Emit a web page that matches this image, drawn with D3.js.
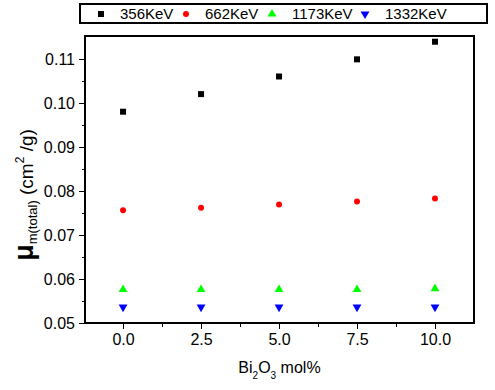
<!DOCTYPE html>
<html>
<head>
<meta charset="utf-8">
<script src="https://cdn.jsdelivr.net/npm/d3@7"></script>
<style>
  body { margin: 0; background: #fff; }
  svg { font-family: Arial, "Liberation Sans", sans-serif; }
</style>
</head>
<body>
<div id="chart"></div>
<script>
var mol = [0.0, 2.5, 5.0, 7.5, 10.0];
var e356 = [0.0980, 0.1020, 0.1060, 0.1099, 0.1139];
var e662 = [0.0756, 0.0762, 0.0769, 0.0776, 0.0783];
var e1173 = [0.0576, 0.0576, 0.0576, 0.0576, 0.0578];
var e1332 = [0.0536, 0.0536, 0.0536, 0.0536, 0.0536];
var seriesNames = ["356KeV", "662KeV", "1173KeV", "1332KeV"];
var xTicks = [0.0, 2.5, 5.0, 7.5, 10.0];
var yTicks = [0.05, 0.06, 0.07, 0.08, 0.09, 0.10, 0.11];

var W = 495, H = 390;
var plotL = 85, plotR = 474, plotT = 36, plotB = 323;

var svg = d3.select("#chart").append("svg")
    .attr("width", W)
    .attr("height", H);

var x = d3.scaleLinear().domain([-1.22, 11.25]).range([plotL, plotR]);
var y = d3.scaleLinear().domain([0.05, 0.1152]).range([plotB, plotT]);

// frame
svg.append("rect")
    .attr("x", plotL).attr("y", plotT)
    .attr("width", plotR - plotL).attr("height", plotB - plotT)
    .attr("fill", "none").attr("stroke", "#000").attr("stroke-width", 1.2)
    .attr("shape-rendering", "crispEdges");

// axes
svg.append("g")
    .attr("transform", "translate(0," + plotB + ")")
    .call(d3.axisBottom(x).tickValues(xTicks).tickSize(6).tickPadding(5)
        .tickFormat(d3.format(".1f")));
svg.append("g")
    .attr("transform", "translate(0," + plotB + ")")
    .call(d3.axisBottom(x).tickValues([1.25, 3.75, 6.25, 8.75]).tickSize(4).tickFormat(""));

svg.append("g")
    .attr("transform", "translate(" + plotL + ",0)")
    .call(d3.axisLeft(y).tickValues(yTicks).tickSize(6).tickPadding(4)
        .tickFormat(d3.format(".2f")));
svg.append("g")
    .attr("transform", "translate(" + plotL + ",0)")
    .call(d3.axisLeft(y).tickValues([0.055, 0.065, 0.075, 0.085, 0.095, 0.105]).tickSize(3).tickFormat(""));

svg.selectAll(".domain").remove();
svg.selectAll(".tick line")
    .attr("stroke", "#000").attr("stroke-width", 1.2)
    .attr("shape-rendering", "crispEdges");
svg.selectAll(".tick text")
    .attr("fill", "#000")
    .style("font-size", "16px")
    .style("font-family", "Arial, 'Liberation Sans', sans-serif");

// axis titles
var xt = svg.append("text")
    .attr("x", (plotL + plotR) / 2)
    .attr("y", 373)
    .attr("text-anchor", "middle")
    .style("font-size", "16px");
xt.append("tspan").text("Bi");
xt.append("tspan").attr("dy", 6).style("font-size", "10px").text("2");
xt.append("tspan").attr("dy", -6).text("O");
xt.append("tspan").attr("dy", 6).style("font-size", "10px").text("3");
xt.append("tspan").attr("dy", -6).text(" mol%");

var yt = svg.append("text")
    .attr("transform", "translate(33,195) rotate(-90)")
    .attr("text-anchor", "middle")
    .style("font-size", "19px");
yt.append("tspan").style("font-size", "27px").style("font-weight", "bold").text("\u03bc");
yt.append("tspan").attr("dy", 4).style("font-size", "13px").text("m(total)");
yt.append("tspan").attr("dy", -4).text(" (cm");
yt.append("tspan").attr("dy", -9).style("font-size", "12px").text("2");
yt.append("tspan").attr("dy", 9).text(" /g)");

// data
var series = [
    { name: seriesNames[0], values: e356, color: "#000000", shape: d3.symbolSquare, size: 36, rot: 0 },
    { name: seriesNames[1], values: e662, color: "#ff0000", shape: d3.symbolCircle, size: 28, rot: 0 },
    { name: seriesNames[2], values: e1173, color: "#00ff00", shape: d3.symbolTriangle, size: 34, rot: 0 },
    { name: seriesNames[3], values: e1332, color: "#0000ff", shape: d3.symbolTriangle, size: 34, rot: 180 }
];

series.forEach(function(s) {
    svg.append("g")
        .selectAll("path")
        .data(s.values)
        .enter()
        .append("path")
        .attr("d", d3.symbol().type(s.shape).size(s.size))
        .attr("transform", function(d, i) {
            return "translate(" + x(mol[i]) + "," + y(d) + ") rotate(" + s.rot + ")";
        })
        .attr("fill", s.color);
});

// legend
var legend = svg.append("g");
legend.append("rect")
    .attr("x", 80).attr("y", 4)
    .attr("width", 407).attr("height", 19)
    .attr("fill", "#fff").attr("stroke", "#000").attr("stroke-width", 1.2)
    .attr("shape-rendering", "crispEdges");

var legMarkX = [101, 186, 272, 365];
var legTextX = [120, 205, 292, 385];
series.forEach(function(s, i) {
    legend.append("path")
        .attr("d", d3.symbol().type(s.shape).size(s.size))
        .attr("transform", "translate(" + legMarkX[i] + ",14) rotate(" + s.rot + ")")
        .attr("fill", s.color);
    legend.append("text")
        .attr("x", legTextX[i])
        .attr("y", 19)
        .style("font-size", "15px")
        .text(s.name);
});
</script>
</body>
</html>
